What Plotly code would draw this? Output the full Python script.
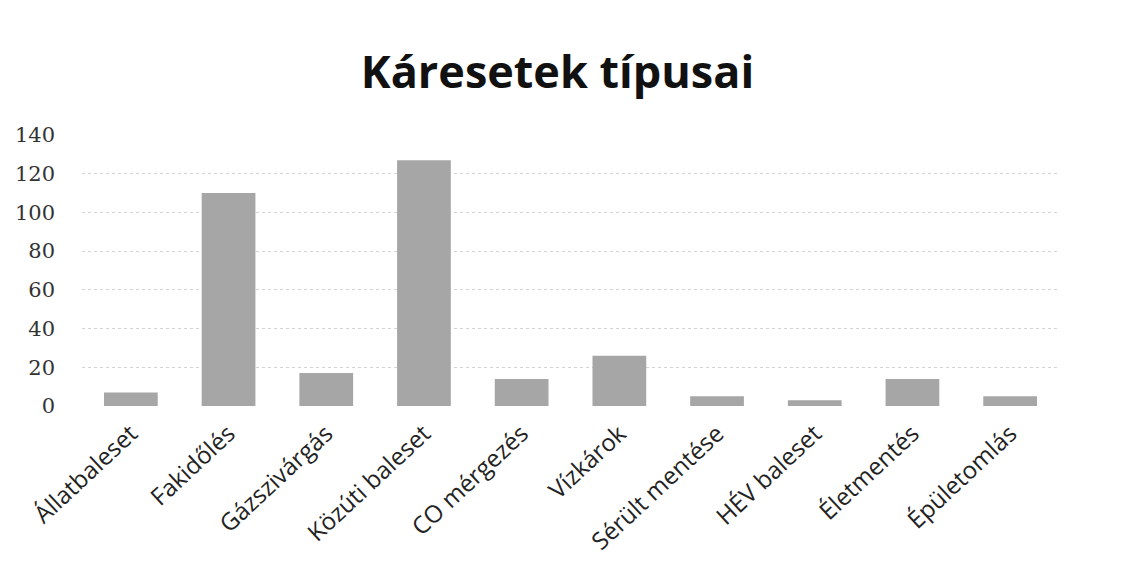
import plotly.graph_objects as go

categories = ['Állatbaleset', 'Fakidőlés', 'Gázszivárgás', 'Közúti baleset', 'CO mérgezés',
              'Vízkárok', 'Sérült mentése', 'HÉV baleset', 'Életmentés', 'Épületomlás']
values = [7, 110, 17, 127, 14, 26, 5, 3, 14, 5]
y_ticks = [0, 20, 40, 60, 80, 100, 120, 140]

fig = go.Figure(go.Bar(
    x=categories, y=values,
    marker=dict(color='#a6a6a6', line=dict(width=0)),
))

# the page body adds an 8px margin, so the figure is a bit smaller than the window
fig.update_layout(
    width=1126, height=560,
    margin=dict(l=74, r=75, t=127, b=162),
    paper_bgcolor='white', plot_bgcolor='white',
    bargap=0.45,
    showlegend=False,
    title=dict(text='<b>Káresetek típusai</b>', xref='container', x=0.488, xanchor='center',
               yref='container', y=0.885, yanchor='middle',
               font=dict(family='Open Sans', size=45, color='#111')),
)
fig.update_yaxes(range=[0, 140], tickvals=y_ticks, showline=False, zeroline=False,
                 showgrid=True, gridcolor='#d4d4d4', griddash='dot', gridwidth=1,
                 ticks='', ticklabelstandoff=26, automargin=False,
                 tickfont=dict(family='DejaVu Serif', size=21, color='#333'))
fig.update_xaxes(showline=False, showgrid=False, ticks='', tickangle=-43, automargin=False,
                 ticklabelstandoff=8,
                 tickfont=dict(family='Open Sans', size=24, color='#222'))

fig.write_html('out.html')
